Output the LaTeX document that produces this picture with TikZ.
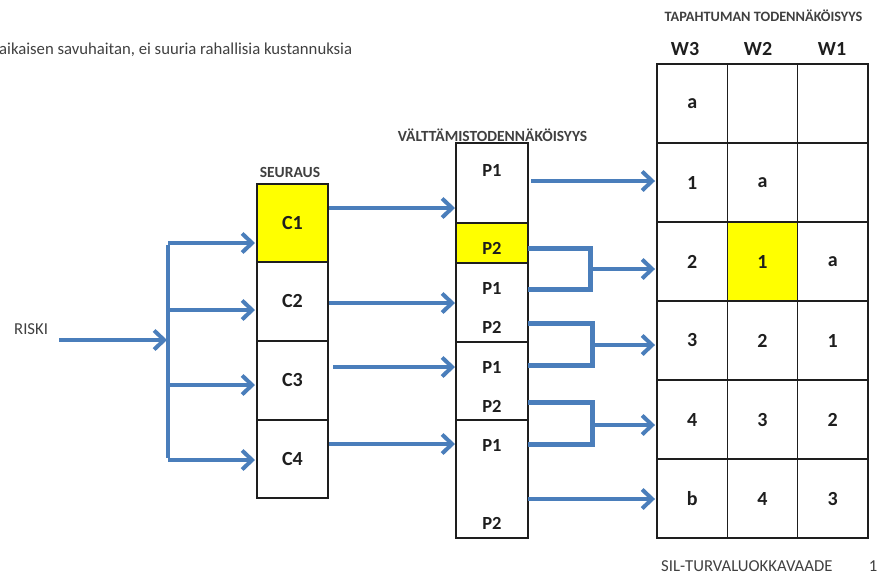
\documentclass[tikz,border=0pt]{standalone}
\usepackage{fontspec}
\setmainfont{Carlito}
\usetikzlibrary{arrows.meta}
\definecolor{flowblue}{RGB}{74,126,187}
\definecolor{hilite}{RGB}{255,255,0}
\definecolor{ink}{RGB}{30,30,30}
\begin{document}
\begin{tikzpicture}[x=1pt,y=-1pt,
  arr/.style={draw=flowblue, line width=4pt, -{Straight Barb[length=10pt,width=19pt]}},
  brk/.style={draw=flowblue, line width=5pt, line join=miter},
  cell/.style={draw=ink, line width=1.2pt, rectangle, inner sep=0pt, outer sep=0pt,
    minimum width=70.33pt, minimum height=79pt, text=ink, font=\fontsize{20}{22}\selectfont\bfseries},
  cbox/.style={cell, minimum width=71pt},
  pseg/.style={draw=ink, line width=1.2pt, rectangle, inner sep=0pt, outer sep=0pt, minimum width=72pt},
  plab/.style={text=ink, inner sep=0pt, font=\fontsize{18.5}{20}\selectfont\bfseries},
  hdr/.style={text=ink, inner sep=0pt, font=\fontsize{20}{22}\selectfont\bfseries},
  smalltitle/.style={text=ink!85, inner sep=0pt, font=\fontsize{15.5}{17}\selectfont\bfseries},
  bodytext/.style={text=ink!85, inner sep=0pt, font=\fontsize{16.7}{18}\selectfont}]
\useasboundingbox (0,0) rectangle (885,574);

% heading text
\node[bodytext, anchor=west] (note) at (-1,50) {aikaisen savuhaitan, ei suuria rahallisia kustannuksia};
\node[bodytext, anchor=west] (riski) at (14,329) {RISKI};
\node[bodytext, anchor=west] (silnote) at (661,566) {SIL-TURVALUOKKAVAADE};
\node[bodytext] (pagenum) at (873,566) {1};

% consequence column
\node[smalltitle] (seuraus) at (290,172) {SEURAUS};
\node[cbox, fill=hilite, minimum height=78pt] (c1) at (292.5,223) {C1};
\node[cbox] (c2) at (292.5,301.5) {C2};
\node[cbox] (c3) at (292.5,380.5) {C3};
\node[cbox, minimum height=78pt] (c4) at (292.5,459) {C4};

% avoidance column
\node[smalltitle] (valt) at (492.5,135) {VÄLTTÄMISTODENNÄKÖISYYS};
\node[pseg, minimum height=80pt] (s1) at (492,183) {};
\node[pseg, minimum height=40pt, fill=hilite] (s2) at (492,243) {};
\node[pseg, minimum height=79pt] (s3) at (492,302.5) {};
\node[pseg, minimum height=78pt] (s4) at (492,381) {};
\node[pseg, minimum height=118pt] (s5) at (492,479) {};
\node[plab] (pa) at (492,170) {P1};
\node[plab] (pb) at (492,248) {P2};
\node[plab] (pc) at (492,288) {P1};
\node[plab] (pd) at (492,327) {P2};
\node[plab] (pe) at (492,367) {P1};
\node[plab] (pf) at (492,406) {P2};
\node[plab] (pg) at (492,445) {P1};
\node[plab] (ph) at (492,523) {P2};

% frequency table
\node[smalltitle, font=\fontsize{14.3}{16}\selectfont\bfseries] (tapahtuma) at (763.5,16) {TAPAHTUMAN TODENNÄKÖISYYS};
\node[hdr] (w3) at (685,49) {W3};
\node[hdr] (w2) at (758,49) {W2};
\node[hdr] (w1) at (832,49) {W1};
\foreach \r/\y/\a/\b/\c in {1/103.5/a//, 2/182.5/1/a/, 3/261.5/2/1/a, 4/340.5/3/2/1, 5/419.5/4/3/2, 6/498.5/b/4/3}{
  \node[cell] (t\r a) at (692.2,\y) {\a};
  \node[cell] (t\r b) at (762.5,\y) {\b};
  \node[cell] (t\r c) at (832.8,\y) {\c};
}
\node[cell, fill=hilite] at (t3b) {1};

% risk feed and branching bus
\coordinate (rstart) at (59,340);
\coordinate (bus) at (168,340);
\coordinate (bustop) at (168,243);
\coordinate (busbot) at (168,460);
\draw[arr] (rstart) -- ([xshift=-1pt]bus);
\draw[flowblue, line width=4.5pt] ([yshift=-2pt]bustop) -- ([yshift=2pt]busbot);
\draw[arr] (bustop) -- ([xshift=-2pt]c1.west |- bustop);
\draw[arr] (bus |- 0,310) -- ([xshift=-2pt]c2.west |- 0,310);
\draw[arr] (bus |- 0,385) -- ([xshift=-2pt]c3.west |- 0,385);
\draw[arr] (busbot) -- ([xshift=-2pt]c4.west |- busbot);

% consequence to avoidance
\draw[arr] ([xshift=1pt]c1.east |- 0,208) -- ([xshift=-1pt]s1.west |- 0,208);
\draw[arr] ([xshift=1pt]c2.east |- 0,303) -- ([xshift=-1pt]s3.west |- 0,303);
\draw[arr] ([xshift=5pt]c3.east |- 0,367) -- ([xshift=-1pt]s4.west |- 0,367);
\draw[arr] ([xshift=1pt]c4.east |- 0,444) -- ([xshift=-1pt]s5.west |- 0,444);

% avoidance to table
\coordinate (j1) at (590,269);
\coordinate (j2) at (592,345);
\coordinate (j3) at (592,425);
\draw[arr] ([xshift=3pt]s1.east |- 0,181) -- ([xshift=-2pt]t2a.west |- 0,181);
\draw[brk] (s2.east |- 0,248) -| (j1) |- (s3.east |- 0,289);
\draw[arr] (j1) -- ([xshift=-2pt]t3a.west |- j1);
\draw[brk] (s3.east |- 0,323) -| (j2) |- (s4.east |- 0,365);
\draw[arr] (j2) -- ([xshift=-2pt]t4a.west |- j2);
\draw[brk] (s4.east |- 0,402) -| (j3) |- (s5.east |- 0,444);
\draw[arr] (j3) -- ([xshift=-2pt]t5a.west |- j3);
\draw[arr] (s5.east |- 0,499) -- ([xshift=-2pt]t6a.west |- 0,499);
\end{tikzpicture}
\end{document}
